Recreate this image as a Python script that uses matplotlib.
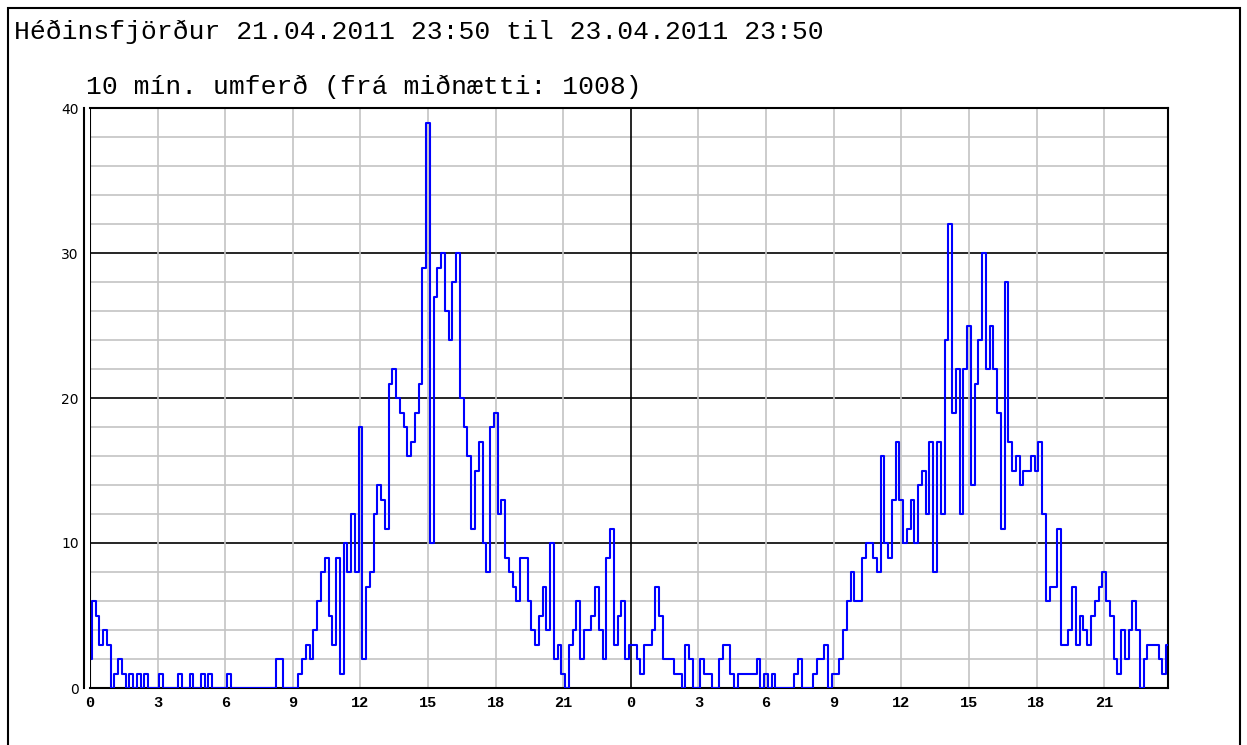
import numpy as np
import matplotlib
matplotlib.use("Agg")
import matplotlib.pyplot as plt
from matplotlib.patches import Rectangle

title = "Héðinsfjörður 21.04.2011 23:50 til 23.04.2011 23:50"
subtitle = "10 mín. umferð (frá miðnætti: 1008)"

# 10 min traffic counts, one row per hour (6 samples)
day1 = [
    [2, 6, 5, 3, 4, 3],
    [0, 1, 2, 1, 0, 1],
    [0, 1, 0, 1, 0, 0],
    [0, 1, 0, 0, 0, 0],
    [1, 0, 0, 1, 0, 0],
    [1, 0, 1, 0, 0, 0],
    [0, 1, 0, 0, 0, 0],
    [0, 0, 0, 0, 0, 0],
    [0, 0, 2, 2, 0, 0],
    [0, 0, 1, 2, 3, 2],
    [4, 6, 8, 9, 5, 3],
    [9, 1, 10, 8, 12, 8],
    [18, 2, 7, 8, 12, 14],
    [13, 11, 21, 22, 20, 19],
    [18, 16, 17, 19, 21, 29],
    [39, 10, 27, 29, 30, 26],
    [24, 28, 30, 20, 18, 16],
    [11, 15, 17, 10, 8, 18],
    [19, 12, 13, 9, 8, 7],
    [6, 9, 9, 6, 4, 3],
    [5, 7, 4, 10, 2, 3],
    [1, 0, 3, 4, 6, 2],
    [4, 4, 5, 7, 4, 2],
    [9, 11, 3, 5, 6, 2],
]

day2 = [
    [3, 3, 2, 1, 3, 3],
    [4, 7, 5, 2, 2, 2],
    [1, 1, 0, 3, 2, 0],
    [0, 2, 1, 1, 0, 0],
    [2, 3, 3, 1, 0, 1],
    [1, 1, 1, 1, 2, 0],
    [1, 0, 1, 0, 0, 0],
    [0, 0, 1, 2, 0, 0],
    [0, 1, 2, 2, 3, 0],
    [1, 1, 2, 4, 6, 8],
    [6, 6, 9, 10, 10, 9],
    [8, 16, 10, 9, 13, 17],
    [13, 10, 11, 13, 10, 14],
    [15, 12, 17, 8, 17, 12],
    [24, 32, 19, 22, 12, 22],
    [25, 14, 21, 24, 30, 22],
    [25, 22, 19, 11, 28, 17],
    [15, 16, 14, 15, 15, 16],
    [15, 17, 12, 6, 7, 7],
    [11, 3, 3, 4, 7, 3],
    [5, 4, 3, 5, 6, 7],
    [8, 6, 5, 2, 1, 4],
    [2, 4, 6, 4, 0, 2],
    [3, 3, 3, 2, 1, 3],
]

tick_hours = [0, 3, 6, 9, 12, 15, 18, 21, 24, 27, 30, 33, 36, 39, 42, 45]
tick_labels = ["0", "3", "6", "9", "12", "15", "18", "21",
               "0", "3", "6", "9", "12", "15", "18", "21"]
y_ticks = [0, 10, 20, 30, 40]

counts = np.array(day1 + day2).ravel()
hours = np.arange(len(counts)) / 6

W, H = 1247, 745
fig = plt.figure(figsize=(W / 100, H / 100), dpi=100)
ax = fig.add_axes([90 / W, 1 - 688 / H, (1168 - 90) / W, (688 - 108) / H])

# grid: gray every 2 / every 3 h, black every 10 and at midnight
for y in range(2, 40, 2):
    ax.axhline(y, color="black" if y % 10 == 0 else "#c4c4c4", lw=1.2, zorder=1)
for h in tick_hours[1:]:
    ax.axvline(h, color="black" if h == 24 else "#c4c4c4", lw=1.2,
               zorder=1.5 if h == 24 else 1)

ax.plot(hours, counts, drawstyle="steps-mid", color="#0000ff", lw=1.5, zorder=3)

ax.set_xlim(0, hours[-1])
ax.set_ylim(0, 40)

mono = "Liberation Mono"
ax.set_xticks(tick_hours)
ax.set_xticklabels(tick_labels, family=mono, fontsize=11, fontweight="bold")
ax.set_yticks(y_ticks)
ax.set_yticklabels([str(v) for v in y_ticks], family=mono, fontsize=11,
                   fontweight="bold")
ax.tick_params(axis="x", length=0, pad=6)
ax.tick_params(axis="y", length=0, pad=4)

for s in ax.spines.values():
    s.set_color("black")
    s.set_linewidth(1.5)
ax.spines["left"].set_position(("outward", 4))
ax.axvline(0, color="black", lw=1.5, zorder=4)

fig.text(14 / W, 1 - 32 / H, title, family=mono, fontsize=19, va="center")
fig.text(86 / W, 1 - 87 / H, subtitle, family=mono, fontsize=19, va="center")

fig.add_artist(Rectangle((8 / W, -0.05), (1240 - 8) / W, (H - 8) / H + 0.05,
                         transform=fig.transFigure, fill=False,
                         ec="black", lw=1.5))

fig.savefig("out.png", dpi=100)
